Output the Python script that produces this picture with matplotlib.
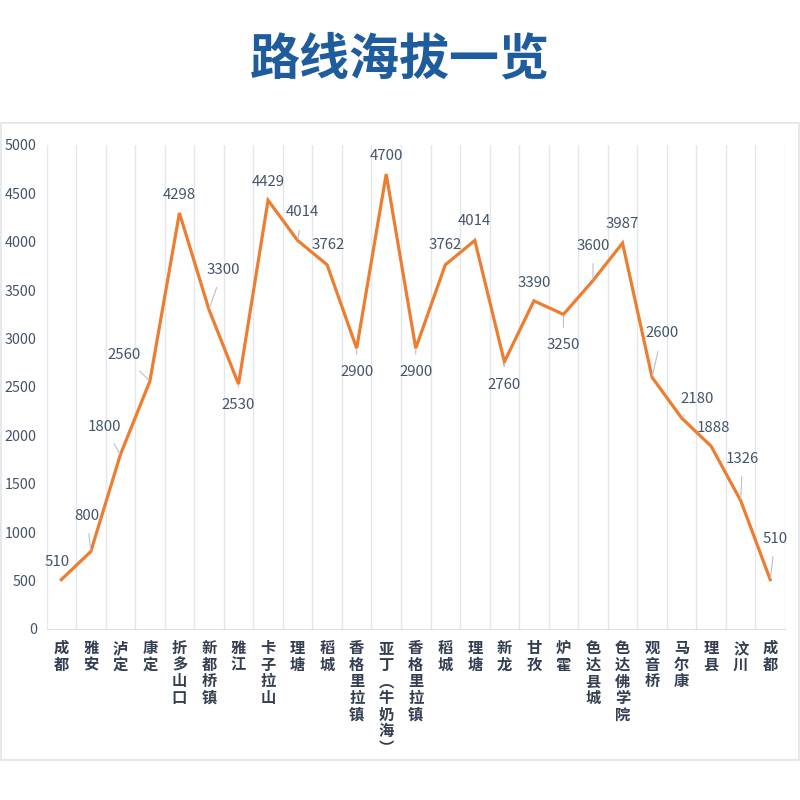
import matplotlib
matplotlib.use('Agg')
import matplotlib.pyplot as plt
from matplotlib.patches import Rectangle

plt.rcParams['font.family'] = ['Noto Sans CJK SC', 'DejaVu Sans']

places = ['成都', '雅安', '泸定', '康定', '折多山口', '新都桥镇', '雅江', '卡子拉山', '理塘', '稻城',
          '香格里拉镇', '亚丁︵牛奶海︶', '香格里拉镇', '稻城', '理塘', '新龙', '甘孜', '炉霍',
          '色达县城', '色达佛学院', '观音桥', '马尔康', '理县', '汶川', '成都']
altitude = [510, 800, 1800, 2560, 4298, 3300, 2530, 4429, 4014, 3762,
            2900, 4700, 2900, 3762, 4014, 2760, 3390, 3250,
            3600, 3987, 2600, 2180, 1888, 1326, 510]
yticks = [0, 500, 1000, 1500, 2000, 2500, 3000, 3500, 4000, 4500, 5000]

# label offsets in pixels (dx, dy) and whether a leader line is drawn
label_pos = [(-4, 18, False), (-4, 36, True), (-16, 28, True), (-26, 26, True), (0, 18, False),
             (14, 40, True), (0, -21, True), (0, 18, False), (5, 28, True), (1, 20, False),
             (0, -24, True), (0, 18, False), (0, -24, True), (0, 20, False), (0, 19, False),
             (0, -23, True), (0, 18, False), (0, -31, True), (0, 35, True), (0, 19, False),
             (10, 44, True), (16, 19, True), (2, 18, False), (2, 42, True), (5, 41, True)]

fig = plt.figure(figsize=(8, 8), dpi=100)
fig.patch.set_facecolor('white')

# panel border
fig.patches.append(Rectangle((0.001, 1 - 760 / 800), 0.998, (760 - 123) / 800,
                             transform=fig.transFigure, facecolor='white',
                             edgecolor='#E1E4EA', lw=1.2, zorder=-5))

fig.text(0.5, 1 - 60 / 800, '路线海拔一览', ha='center', va='center',
         fontsize=36, fontweight='black', color='#1F5C9E')

ax = fig.add_axes([46.5 / 800, 1 - 629 / 800, (785 - 46.5) / 800, (629 - 145) / 800])
ax.set_facecolor('none')
ax.set_zorder(2)
x = list(range(len(places)))
ax.plot(x, altitude, color='#ED7D31', lw=2.3, zorder=3, solid_joinstyle='miter')

ax.set_xlim(-0.5, len(places) - 0.5)
ax.set_ylim(0, 5000)
ax.set_yticks(yticks)
ax.set_yticklabels([str(v) for v in yticks], fontsize=10.3, color='#44546A')
ax.tick_params(axis='y', length=0, pad=7)
ax.set_xticks(x)
ax.set_xticklabels(['\n'.join(p) for p in places], fontsize=11, fontweight='bold',
                   color='#333F50', va='top', linespacing=1.05)
ax.tick_params(axis='x', length=0, pad=8)

for b in [i - 0.5 for i in range(len(places) + 1)]:
    ax.axvline(b, color='#E3E6EC', lw=1, zorder=1)
for s in ['top', 'right', 'left']:
    ax.spines[s].set_visible(False)
ax.spines['bottom'].set_color('#DADDE3')

for i, v in enumerate(altitude):
    dx, dy, lead = label_pos[i]
    ap = None
    if lead:
        ap = dict(arrowstyle='-', color='#B8C0CE', lw=0.8, shrinkA=6, shrinkB=1)
    ax.annotate(str(v), (i, v), xytext=(dx, dy), textcoords='offset pixels',
                ha='center', va='center', fontsize=10.8, color='#44546A',
                arrowprops=ap, zorder=4)

fig.savefig('out.png', dpi=100)
